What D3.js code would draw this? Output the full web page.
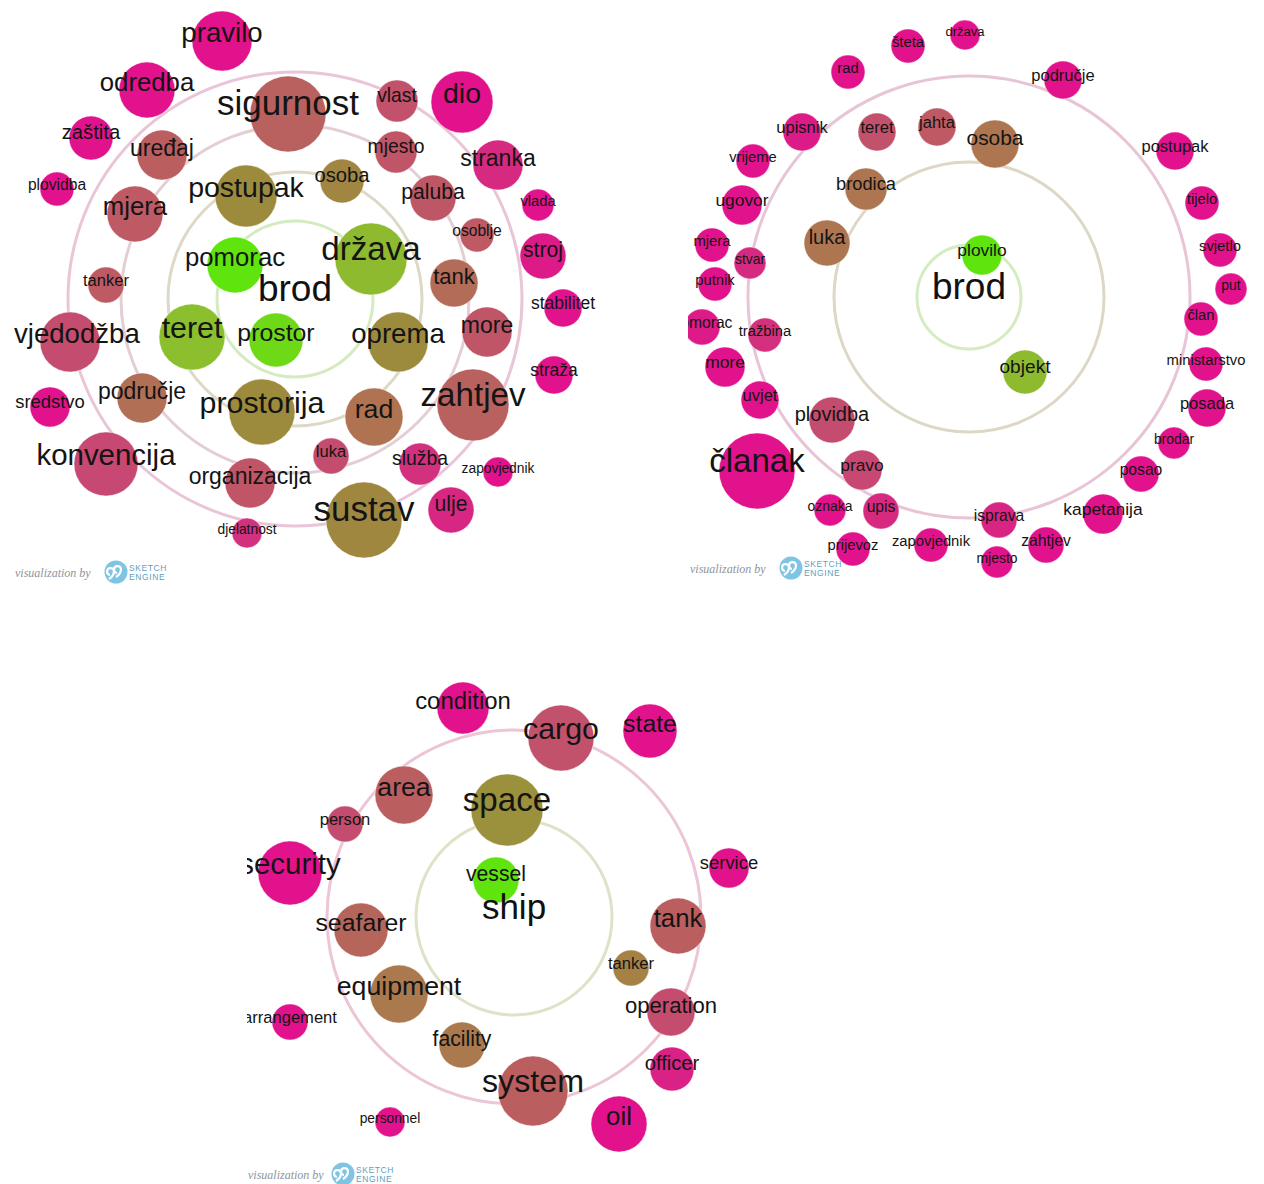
<!DOCTYPE html>
<html>
<head>
<meta charset="utf-8">
<script src="https://cdn.jsdelivr.net/npm/d3@7"></script>
<style>
  body { margin: 0; background: #fff; }
  svg { display: block; font-family: 'Liberation Sans', Arial, sans-serif; }
</style>
</head>
<body>
<div id="chart"></div>
<script>
// word sketch data: [word, x score, y score, frequency, tone]
var brodHrRings = [39, 63.5, 87, 113.5];
var brodHrWords = [
    ['pravilo', -36.5, -129, 9000, 1],
    ['odredba', -74, -104.5, 7840, 1],
    ['zaštita', -102, -80.5, 4840, 1],
    ['plovidba', -119, -55, 2890, 1],
    ['uređaj', -66.5, -72, 6250, 0.72],
    ['mjera', -80, -42.5, 7840, 0.74],
    ['tanker', -94.5, -7, 3240, 0.74],
    ['sigurnost', -3.5, -92.5, 14440, 0.7],
    ['postupak', -24.5, -51.5, 9610, 0.42],
    ['pomorac', -30, -17, 7840, 0],
    ['osoba', 23.5, -59, 4840, 0.46],
    ['vlast', 51, -99, 4410, 0.78],
    ['dio', 83.5, -98.5, 9610, 1],
    ['mjesto', 50.5, -73.5, 4410, 0.76],
    ['stranka', 101.5, -67, 6250, 0.92],
    ['paluba', 69, -50.5, 5290, 0.75],
    ['vlada', 121.5, -47, 2560, 1],
    ['osoblje', 91, -32, 2890, 0.74],
    ['stroj', 124, -21.5, 5290, 0.97],
    ['država', 38, -20, 12960, 0.22],
    ['tank', 79.5, -8, 5760, 0.64],
    ['stabilitet', 134, 4.5, 3610, 1],
    ['more', 96, 16.5, 6250, 0.76],
    ['oprema', 51.5, 21.5, 9000, 0.42],
    ['straža', 129.5, 38, 3610, 1],
    ['zahtjev', 89, 53, 12960, 0.7],
    ['rad', 39.5, 59, 8410, 0.6],
    ['luka', 18, 78.5, 3240, 0.8],
    ['služba', 62.5, 82.5, 4410, 0.9],
    ['zapovjednik', 101.5, 86.5, 2250, 1],
    ['sustav', 34.5, 110.5, 14440, 0.45],
    ['ulje', 78, 105.5, 5290, 0.93],
    ['svjedodžba', -112.5, 21.5, 9000, 0.8],
    ['teret', -51.5, 19, 10890, 0.2],
    ['prostor', -9.5, 20.5, 7290, 0.06],
    ['sredstvo', -122.5, 54, 4000, 1],
    ['područje', -76.5, 49.5, 6250, 0.62],
    ['prostorija', -16.5, 56.5, 10890, 0.42],
    ['konvencija', -94.5, 82.5, 10240, 0.82],
    ['organizacija', -22.5, 92, 6250, 0.76],
    ['djelatnost', -24, 117, 2250, 0.9]
];

var brodRegRings = [26, 67.5, 110.5];
var brodRegWords = [
    ['rad', -60.5, -112.5, 2890, 1],
    ['šteta', -30.5, -125.5, 2890, 1],
    ['država', -2, -131, 2250, 1],
    ['upisnik', -83.5, -82.5, 3610, 0.97],
    ['teret', -46, -82.5, 3610, 0.78],
    ['jahta', -16, -85, 3610, 0.74],
    ['vrijeme', -108, -68, 2890, 1],
    ['brodica', -51.5, -54, 4410, 0.58],
    ['ugovor', -113.5, -46, 4000, 1],
    ['luka', -71, -27, 5290, 0.58],
    ['mjera', -128.5, -26, 2890, 1],
    ['stvar', -109.5, -17, 2560, 0.92],
    ['putnik', -127, -6.5, 2890, 1],
    ['plovilo', 6.5, -21, 4000, 0],
    ['osoba', 13, -76.5, 5760, 0.58],
    ['područje', 47, -108.5, 3610, 1],
    ['postupak', 103, -73, 3610, 1],
    ['tijelo', 116.5, -47, 2890, 1],
    ['svjetlo', 125.5, -23.5, 2890, 1],
    ['put', 131, -4, 2560, 1],
    ['pomorac', -133.5, 15, 3240, 0.97],
    ['tražbina', -102, 19, 2890, 0.9],
    ['more', -122, 35, 4000, 1],
    ['uvjet', -104.5, 51.5, 3610, 1],
    ['plovidba', -68.5, 61.5, 5290, 0.8],
    ['članak', -106, 87, 14440, 1],
    ['pravo', -53.5, 86.5, 4000, 0.82],
    ['oznaka', -69.5, 106.5, 2560, 1],
    ['upis', -44, 107, 3240, 0.92],
    ['prijevoz', -58, 126, 2890, 1],
    ['zapovjednik', -19, 124, 2890, 1],
    ['objekt', 28, 37.5, 4840, 0.22],
    ['član', 116, 11, 2890, 1],
    ['ministarstvo', 118.5, 33.5, 2890, 1],
    ['posada', 119, 55.5, 3610, 1],
    ['brodar', 102.5, 73, 2560, 1],
    ['posao', 86, 88.5, 3240, 1],
    ['kapetanija', 67, 108.5, 4000, 1],
    ['isprava', 15, 111.5, 3240, 0.94],
    ['zahtjev', 38.5, 124, 3240, 1],
    ['mjesto', 14, 132.5, 2560, 1]
];

var shipEnRings = [49, 93.5];
var shipEnWords = [
    ['condition', -25.5, -104.5, 6760, 1],
    ['cargo', 23.5, -89.5, 10890, 0.78],
    ['state', 68, -93, 7290, 1],
    ['area', -55, -61, 8410, 0.72],
    ['space', -3.5, -53.5, 12960, 0.4],
    ['person', -84.5, -46.5, 3240, 0.8],
    ['security', -112, -22, 10240, 1],
    ['service', 107.5, -24.5, 4000, 1],
    ['vessel', -9, -18.5, 5290, 0],
    ['seafarer', -76.5, 6.5, 7290, 0.68],
    ['tank', 82, 4.5, 7840, 0.72],
    ['tanker', 58.5, 25.5, 3240, 0.5],
    ['equipment', -57.5, 38.5, 8410, 0.56],
    ['operation', 78.5, 47.5, 5760, 0.8],
    ['arrangement', -112, 52.5, 3240, 1],
    ['facility', -26, 64, 5290, 0.56],
    ['officer', 79, 76, 4840, 0.95],
    ['system', 9.5, 87, 12250, 0.72],
    ['oil', 52.5, 103.5, 7840, 1],
    ['personnel', -62, 102.5, 2250, 1]
];

var toneColor = d3.scaleLinear()
    .domain([0, 0.2, 0.42, 0.58, 0.72, 0.82, 1])
    .range(['#5fe40e', '#8cbf2d', '#9c8b3c', '#ad7650', '#ba5e60', '#c74872', '#e1128c']);

var radius = d3.scaleSqrt().domain([0, 16000]).range([0, 40]);

var svg = d3.select('#chart')
    .append('svg')
    .attr('width', 1264)
    .attr('height', 1184);

var defs = svg.append('defs');

function drawSketch(opts) {
    defs.append('clipPath')
        .attr('id', opts.id)
        .append('rect')
        .attr('x', opts.clip[0]).attr('y', opts.clip[1])
        .attr('width', opts.clip[2]).attr('height', opts.clip[3]);

    var g = svg.append('g').attr('clip-path', 'url(#' + opts.id + ')');

    var x = d3.scaleLinear().domain([-125, 125]).range([opts.cx - 250, opts.cx + 250]),
        y = d3.scaleLinear().domain([-125, 125]).range([opts.cy - 250, opts.cy + 250]),
        ring = d3.scaleLinear().domain([0, 125]).range([0, 250]),
        font = d3.scaleSqrt().domain([0, 16000]).range([0, 40 * opts.fontFactor]);

    g.selectAll('circle.ring')
        .data(opts.rings)
        .join('circle')
        .attr('class', 'ring')
        .attr('cx', opts.cx)
        .attr('cy', opts.cy)
        .attr('r', function (d) { return ring(d); })
        .attr('fill', 'none')
        .attr('stroke', function (d, i) { return opts.ringColors[i]; })
        .attr('stroke-width', 3);

    g.selectAll('circle.bubble')
        .data(opts.words)
        .join('circle')
        .attr('class', 'bubble')
        .attr('cx', function (d) { return x(d[1]); })
        .attr('cy', function (d) { return y(d[2]); })
        .attr('r', function (d) { return radius(d[3]); })
        .attr('fill', function (d) { return toneColor(d[4]); })
        .attr('stroke', '#fff')
        .attr('stroke-opacity', 0.45)
        .attr('stroke-width', 1);

    g.selectAll('text.label')
        .data(opts.words)
        .join('text')
        .attr('class', 'label')
        .attr('x', function (d) { return x(d[1]); })
        .attr('y', function (d) { return y(d[2]) + 1; })
        .attr('text-anchor', 'middle')
        .attr('font-size', function (d) { return font(d[3]); })
        .attr('fill', '#141414')
        .text(function (d) { return d[0]; });

    g.append('text')
        .attr('x', opts.cx)
        .attr('y', opts.cy + 2)
        .attr('text-anchor', 'middle')
        .attr('font-size', opts.headSize)
        .attr('fill', '#111')
        .text(opts.head);

    // watermark
    var w = svg.append('g').attr('transform', 'translate(' + opts.mark[0] + ',' + opts.mark[1] + ')');
    w.append('text')
        .attr('x', 0).attr('y', 0)
        .attr('font-family', "'Liberation Serif', 'DejaVu Serif', serif")
        .attr('font-style', 'italic')
        .attr('font-size', 12)
        .attr('fill', '#8d949a')
        .text('visualization by');
    w.append('circle')
        .attr('cx', opts.logoDx).attr('cy', -5).attr('r', 11.5)
        .attr('fill', '#7fc4e2');
    w.append('path')
        .attr('d', 'M' + (opts.logoDx - 6) + ',-2 a3.5,3.5 0 1,1 4,-4 q0,5 -5,8 M' + (opts.logoDx + 1) + ',-4 a3.5,3.5 0 1,1 4,-4 q0,5 -5,8')
        .attr('fill', 'none')
        .attr('stroke', '#fff')
        .attr('stroke-width', 2.2);
    w.append('text')
        .attr('x', opts.logoDx + 13).attr('y', -6)
        .attr('font-size', 8.5)
        .attr('letter-spacing', 0.6)
        .attr('fill', '#5f9fbd')
        .text('SKETCH');
    w.append('text')
        .attr('x', opts.logoDx + 13).attr('y', 3)
        .attr('font-size', 8.5)
        .attr('letter-spacing', 0.6)
        .attr('fill', '#5f9fbd')
        .text('ENGINE');
}

drawSketch({
    id: 'clip-hr',
    cx: 295, cy: 299,
    clip: [14, 0, 650, 600],
    rings: brodHrRings,
    ringColors: ['#d4ebc2', '#ddd9c7', '#e3cfd3', '#e9c5d7'],
    words: brodHrWords,
    head: 'brod', headSize: 37,
    fontFactor: 0.92,
    mark: [15, 577], logoDx: 101
});

drawSketch({
    id: 'clip-reg',
    cx: 969, cy: 297,
    clip: [688, 0, 576, 600],
    rings: brodRegRings,
    ringColors: ['#d4ecc0', '#ddd8c5', '#e8c5d6'],
    words: brodRegWords,
    head: 'brod', headSize: 37,
    fontFactor: 0.87,
    mark: [690, 573], logoDx: 101
});

drawSketch({
    id: 'clip-en',
    cx: 514, cy: 917,
    clip: [247, 640, 560, 544],
    rings: shipEnRings,
    ringColors: ['#dfe2c6', '#ecc5d7'],
    words: shipEnWords,
    head: 'ship', headSize: 35,
    fontFactor: 0.92,
    mark: [248, 1179], logoDx: 95
});
</script>
</body>
</html>
